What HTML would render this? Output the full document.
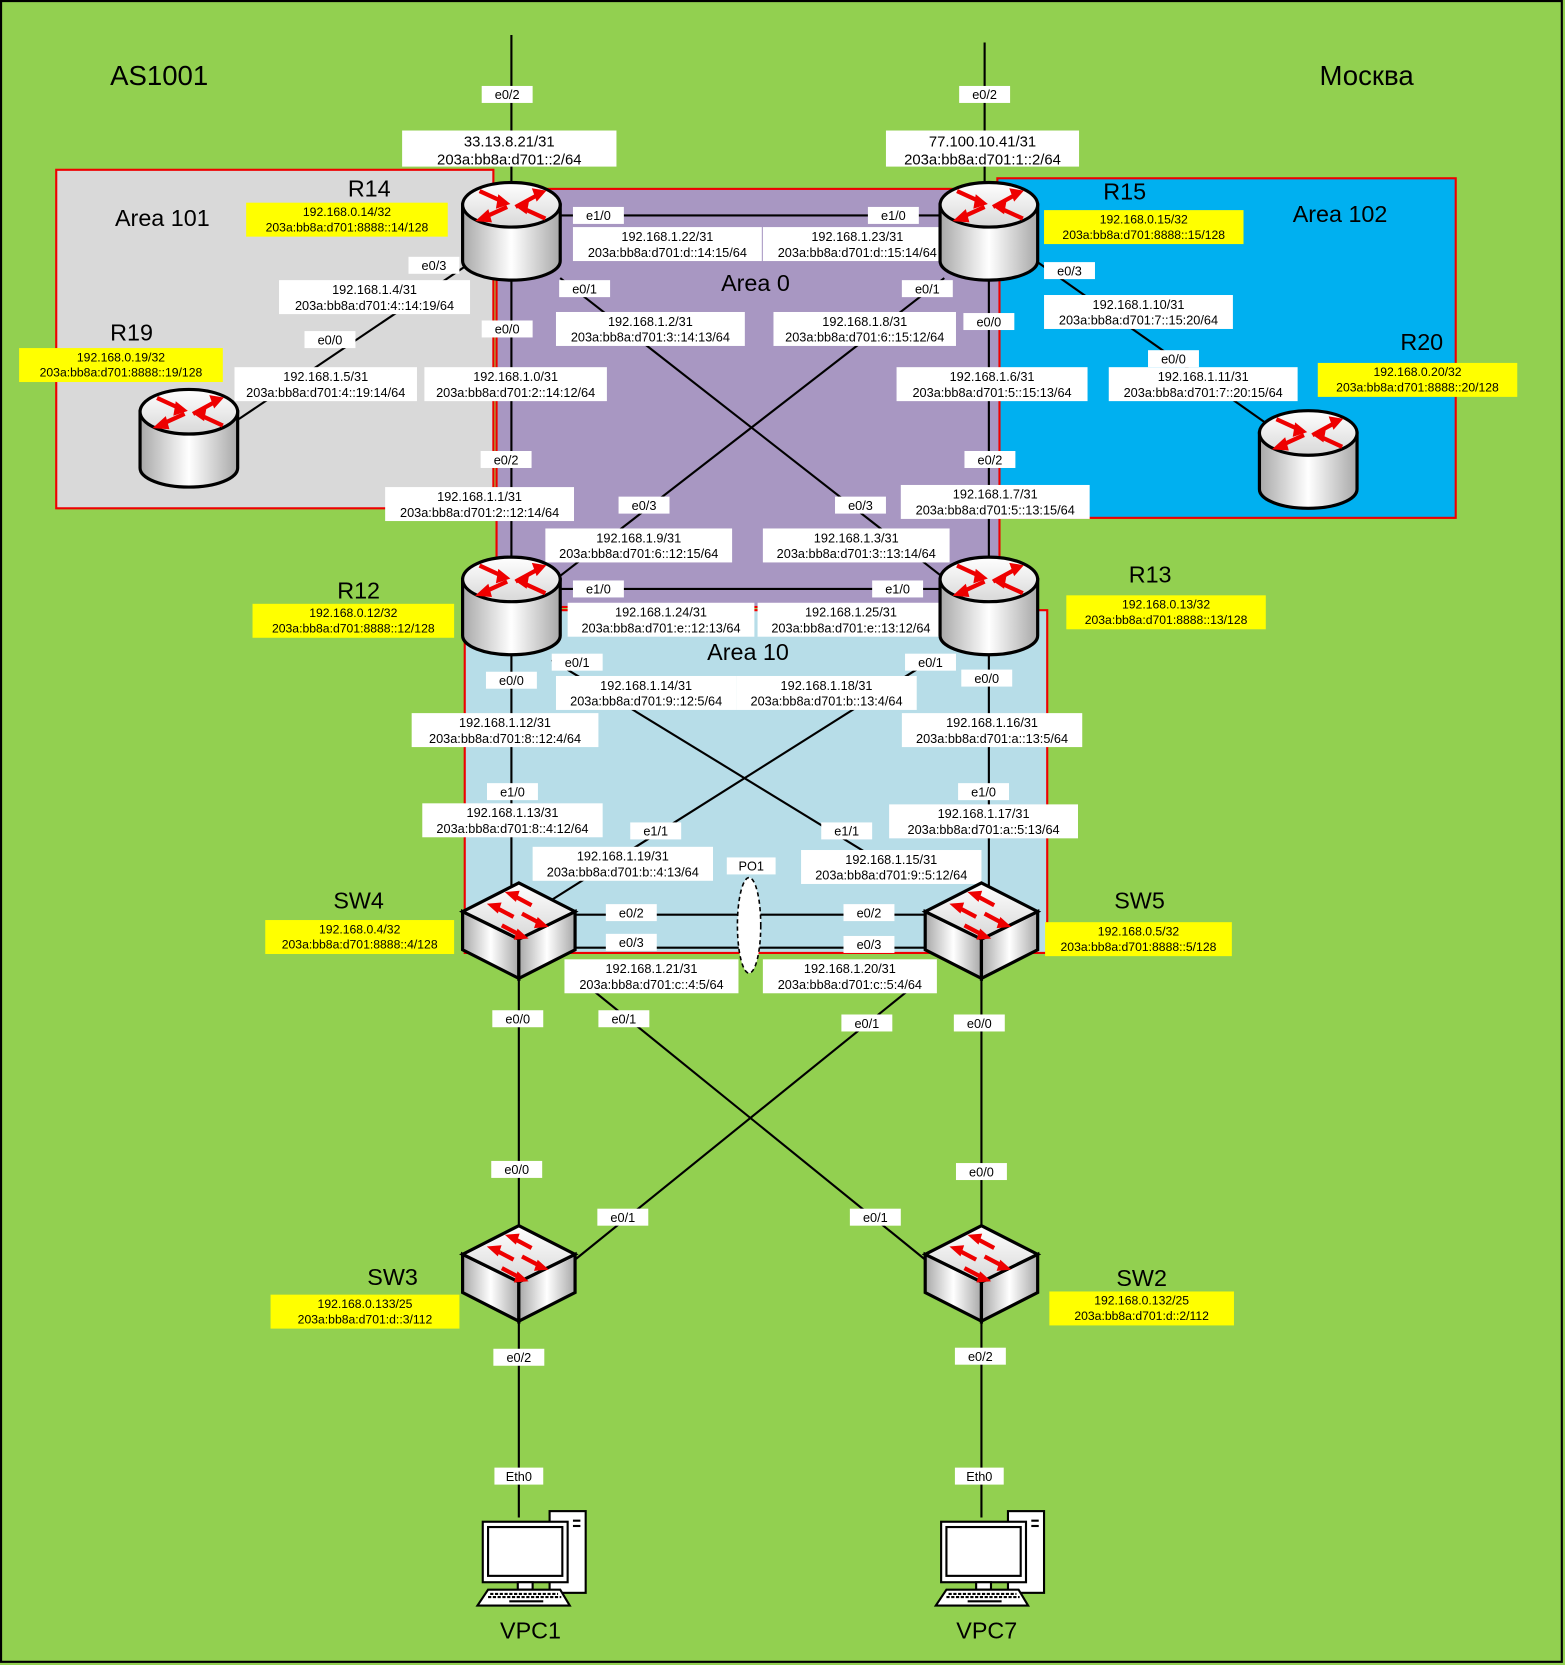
<!DOCTYPE html>
<html><head><meta charset="utf-8">
<style>
html,body{margin:0;padding:0;background:#92d050;}
svg{display:block;}
text{font-family:"Liberation Sans","DejaVu Sans",sans-serif;}
</style></head>
<body>
<svg id="net" xmlns="http://www.w3.org/2000/svg" width="1565" height="1665" viewBox="0 0 1475 1569" preserveAspectRatio="none">
<defs>
<linearGradient id="cyl" x1="0" x2="1" y1="0" y2="0">
<stop offset="0" stop-color="#a8a8a8"/><stop offset="0.5" stop-color="#ffffff"/><stop offset="1" stop-color="#a8a8a8"/>
</linearGradient>
<linearGradient id="topg" x1="0" x2="0" y1="0" y2="1">
<stop offset="0" stop-color="#ffffff"/><stop offset="1" stop-color="#d8d8d8"/>
</linearGradient>
<symbol id="router" viewBox="-50 -50 100 100" overflow="visible">
<path d="M-46,-24 L-46,29 A46,18 0 0 0 46,29 L46,-24 Z" fill="url(#cyl)" stroke="#000" stroke-width="3"/>
<ellipse cx="0" cy="-24" rx="46" ry="21" fill="url(#topg)" stroke="#000" stroke-width="3"/>
<g stroke="#e00" stroke-width="4" fill="#e00">
<line x1="-30" y1="-37" x2="-6" y2="-26"/><polygon points="-2,-25 -12,-33 -14,-21" stroke-width="1"/>
<line x1="4" y1="-22" x2="26" y2="-34"/><polygon points="32,-37 20,-39 24,-28" stroke-width="1"/>
<line x1="-4" y1="-22" x2="-26" y2="-12"/><polygon points="-33,-9 -22,-19 -19,-8" stroke-width="1"/>
<line x1="32" y1="-11" x2="8" y2="-22"/><polygon points="4,-23 14,-16 16,-27" stroke-width="1"/>
</g>
</symbol>
<symbol id="switch" viewBox="-60 -50 120 100" overflow="visible">
<polygon points="0,-45 53,-18 53,18 0,45 -53,18 -53,-18" fill="#ddd"/>
<polygon points="-53,-18 0,8 0,45 -53,18" fill="url(#cyl)" stroke="#000" stroke-width="3"/>
<polygon points="53,-18 0,8 0,45 53,18" fill="url(#cyl)" stroke="#000" stroke-width="3"/>
<polygon points="0,-45 53,-18 0,8 -53,-18" fill="url(#topg)" stroke="#000" stroke-width="3"/>
<g stroke="#e00" stroke-width="4" fill="#e00">
<line x1="-5" y1="-33" x2="12" y2="-24"/><polygon points="-12,-36 0,-37 -3,-28" stroke-width="1"/>
<line x1="-22" y1="-22" x2="-5" y2="-13"/><polygon points="-29,-25 -17,-26 -20,-17" stroke-width="1"/>
<line x1="3" y1="-16" x2="20" y2="-7"/><polygon points="27,-4 15,-3 18,-12" stroke-width="1"/>
<line x1="-16" y1="-5" x2="1" y2="4"/><polygon points="8,7 -4,8 -1,-1" stroke-width="1"/>
</g>
</symbol>
<symbol id="pc" viewBox="-60 -50 120 100" overflow="visible">
<rect x="18" y="-41" width="34" height="77" fill="#fff" stroke="#000" stroke-width="2"/>
<rect x="40" y="-33" width="7" height="2" fill="#000"/><rect x="40" y="-28" width="7" height="2" fill="#000"/>
<rect x="-45" y="-31" width="80" height="57" fill="#fff" stroke="#000" stroke-width="2"/>
<rect x="-40" y="-26" width="70" height="46" fill="#fff" stroke="#000" stroke-width="2"/>
<rect x="-12" y="26" width="14" height="7" fill="#fff" stroke="#000" stroke-width="2"/>
<polygon points="-40,33 28,33 37,48 -50,48" fill="#fff" stroke="#000" stroke-width="2"/>
<line x1="-38" y1="37" x2="26" y2="37" stroke="#000" stroke-width="2" stroke-dasharray="3,1.5"/>
<line x1="-40" y1="40" x2="29" y2="40" stroke="#000" stroke-width="2" stroke-dasharray="3,1.5"/>
<line x1="-20" y1="44" x2="12" y2="44" stroke="#000" stroke-width="2"/>
</symbol>
</defs>

<rect x="1" y="1" width="1471" height="1565" fill="#92d050" stroke="#000" stroke-width="2"/>

<rect x="53" y="160" width="412" height="319" fill="#d9d9d9" stroke="#e00" stroke-width="2"/>
<rect x="940" y="168" width="432" height="320" fill="#00b0f0" stroke="#e00" stroke-width="2"/>
<rect x="438" y="575" width="549" height="323" fill="#b7dde8" stroke="#e00" stroke-width="2"/>
<rect x="468" y="178" width="474" height="394" fill="#a897c2" stroke="#e00" stroke-width="2"/>

<g id="links" stroke="#000" stroke-width="2" fill="none">
<line x1="482" y1="33" x2="482" y2="200"/>
<line x1="928" y1="40" x2="928" y2="200"/>
<line x1="482" y1="203" x2="932" y2="203"/>
<line x1="482" y1="217" x2="482" y2="570"/>
<line x1="932" y1="217" x2="932" y2="570"/>
<line x1="440" y1="250" x2="225" y2="395"/>
<line x1="975" y1="245" x2="1195" y2="400"/>
<line x1="528" y1="262" x2="890" y2="545"/>
<line x1="890" y1="262" x2="525" y2="545"/>
<line x1="482" y1="555" x2="932" y2="555"/>
<line x1="482" y1="570" x2="482" y2="860"/>
<line x1="932" y1="570" x2="932" y2="850"/>
<line x1="520" y1="622" x2="840" y2="818"/>
<line x1="878" y1="622" x2="520" y2="848"/>
<line x1="489" y1="862" x2="925" y2="862"/>
<line x1="489" y1="893" x2="925" y2="893"/>
<line x1="489" y1="877" x2="489" y2="1200"/>
<line x1="925" y1="877" x2="925" y2="1200"/>
<line x1="540" y1="918" x2="872" y2="1187"/>
<line x1="875" y1="918" x2="542" y2="1187"/>
<line x1="489" y1="1200" x2="489" y2="1430"/>
<line x1="925" y1="1200" x2="925" y2="1430"/>
</g>
<ellipse cx="706" cy="872" rx="11" ry="45" fill="#fff" stroke="#000" stroke-width="1.5" stroke-dasharray="4,3"/>

<g id="labels"></g>
<g id="devices"></g>
<g id="titles"></g>
</svg>
<script>
const NS="http://www.w3.org/2000/svg";
const portLabels=[
["e0/2",478,89],["e0/2",928,89],["e1/0",564,203],["e1/0",842,203],["e0/3",409,250],["e0/1",551,272],["e0/1",874,272],
["e0/3",1008,255],["e0/0",311,320],["e0/0",478,310],["e0/0",932,303],["e0/0",1106,338],["e0/2",477,433],["e0/2",933,433],
["e0/3",607,476],["e0/3",811,476],["e1/0",564,555],["e1/0",846,555],["e0/1",544,624],["e0/1",877,624],["e0/0",482,641],["e0/0",930,639],
["e1/0",483,746],["e1/0",927,746],["e1/1",618,783],["e1/1",798,783],["PO1",708,816],["e0/2",595,860],["e0/2",819,860],["e0/3",595,888],["e0/3",819,890],
["e0/0",488,960],["e0/1",588,960],["e0/1",817,964],["e0/0",923,964],["e0/0",487,1102],["e0/0",925,1104],["e0/1",587,1147],["e0/1",825,1147],
["e0/2",489,1279],["e0/2",924,1278],["Eth0",489,1391],["Eth0",923,1391]];
const ipLabels=[
[480,140,202,"33.13.8.21/31","203a:bb8a:d701::2/64",14],
[926,140,182,"77.100.10.41/31","203a:bb8a:d701:1::2/64",14],
[629,230,178,"192.168.1.22/31","203a:bb8a:d701:d::14:15/64",12],
[808,230,178,"192.168.1.23/31","203a:bb8a:d701:d::15:14/64",12],
[353,280,180,"192.168.1.4/31","203a:bb8a:d701:4::14:19/64",12],
[1073,294,178,"192.168.1.10/31","203a:bb8a:d701:7::15:20/64",12],
[613,310,178,"192.168.1.2/31","203a:bb8a:d701:3::14:13/64",12],
[815,310,172,"192.168.1.8/31","203a:bb8a:d701:6::15:12/64",12],
[307,362,172,"192.168.1.5/31","203a:bb8a:d701:4::19:14/64",12],
[486,362,172,"192.168.1.0/31","203a:bb8a:d701:2::14:12/64",12],
[935,362,180,"192.168.1.6/31","203a:bb8a:d701:5::15:13/64",12],
[1134,362,178,"192.168.1.11/31","203a:bb8a:d701:7::20:15/64",12],
[452,475,178,"192.168.1.1/31","203a:bb8a:d701:2::12:14/64",12],
[938,473,178,"192.168.1.7/31","203a:bb8a:d701:5::13:15/64",12],
[602,514,176,"192.168.1.9/31","203a:bb8a:d701:6::12:15/64",12],
[807,514,176,"192.168.1.3/31","203a:bb8a:d701:3::13:14/64",12],
[623,584,176,"192.168.1.24/31","203a:bb8a:d701:e::12:13/64",12],
[802,584,176,"192.168.1.25/31","203a:bb8a:d701:e::13:12/64",12],
[609,653,170,"192.168.1.14/31","203a:bb8a:d701:9::12:5/64",12],
[779,653,170,"192.168.1.18/31","203a:bb8a:d701:b::13:4/64",12],
[476,688,176,"192.168.1.12/31","203a:bb8a:d701:8::12:4/64",12],
[935,688,170,"192.168.1.16/31","203a:bb8a:d701:a::13:5/64",12],
[483,773,170,"192.168.1.13/31","203a:bb8a:d701:8::4:12/64",12],
[927,774,178,"192.168.1.17/31","203a:bb8a:d701:a::5:13/64",12],
[587,814,170,"192.168.1.19/31","203a:bb8a:d701:b::4:13/64",12],
[840,817,170,"192.168.1.15/31","203a:bb8a:d701:9::5:12/64",12],
[614,920,164,"192.168.1.21/31","203a:bb8a:d701:c::4:5/64",12],
[801,920,164,"192.168.1.20/31","203a:bb8a:d701:c::5:4/64",12]];
const loopLabels=[
[327,207,190,"192.168.0.14/32","203a:bb8a:d701:8888::14/128"],
[1078,214,188,"192.168.0.15/32","203a:bb8a:d701:8888::15/128"],
[114,344,192,"192.168.0.19/32","203a:bb8a:d701:8888::19/128"],
[1336,358,188,"192.168.0.20/32","203a:bb8a:d701:8888::20/128"],
[333,585,190,"192.168.0.12/32","203a:bb8a:d701:8888::12/128"],
[1099,577,188,"192.168.0.13/32","203a:bb8a:d701:8888::13/128"],
[339,883,178,"192.168.0.4/32","203a:bb8a:d701:8888::4/128"],
[1073,885,176,"192.168.0.5/32","203a:bb8a:d701:8888::5/128"],
[344,1236,178,"192.168.0.133/25","203a:bb8a:d701:d::3/112"],
[1076,1233,174,"192.168.0.132/25","203a:bb8a:d701:d::2/112"]];
const routers=[["R14",482,217],["R15",932,217],["R19",178,412],["R20",1233,432],["R12",482,570],["R13",932,570]];
const switches=[["SW4",489,877],["SW5",925,877],["SW3",489,1200],["SW2",925,1200]];
const pcs=[["VPC1",500,1465],["VPC7",932,1465]];
const titles=[["AS1001",150,80,26],["Москва",1288,80,26],["Area 101",153,213,22],["Area 102",1263,209,22],["Area 0",712,274,22],["Area 10",705,622,22],
["R14",348,185,22],["R15",1060,188,22],["R19",124,321,22],["R20",1340,330,22],["R12",338,564,22],["R13",1084,549,22],
["SW4",338,856,22],["SW5",1074,856,22],["SW3",370,1211,22],["SW2",1076,1212,22],["VPC1",500,1544,22],["VPC7",930,1544,22]];

function mk(tag,attrs,parent){const e=document.createElementNS(NS,tag);for(const k in attrs)e.setAttribute(k,attrs[k]);parent.appendChild(e);return e;}
const L=document.getElementById('labels'),D=document.getElementById('devices'),T=document.getElementById('titles');
portLabels.forEach(p=>{
  const w=p[0]==="PO1"?46:(p[0]==="Eth0"?46:48);
  const g=mk('g',{},L);
  
  
  mk('rect',{x:p[1]-w/2,y:p[2]-8,width:w,height:16,fill:'#fff'},g);
  const t=mk('text',{x:p[1],y:p[2]+4.5,'font-size':12,'text-anchor':'middle',fill:'#000'},g);t.textContent=p[0];
});
function box(arr,fill,fs,name){
  arr.forEach(b=>{
    const f=b[5]&&typeof b[5]==="number"?b[5]:fs;
    const h=f>12?34:32;
    const g=mk('g',{},L);
    
    
    mk('rect',{x:b[0]-b[2]/2,y:b[1]-h/2,width:b[2],height:h,fill:fill},g);
    const t1=mk('text',{x:b[0],y:b[1]-h/2+f+1,'font-size':f,'text-anchor':'middle'},g);t1.textContent=b[3];
    const t2=mk('text',{x:b[0],y:b[1]-h/2+2*f+4,'font-size':f,'text-anchor':'middle'},g);t2.textContent=b[4];
  });
}
box(ipLabels,'#fff',12,'ip-address-label');
box(loopLabels,'#ffff00',11.5,'loopback-label');
routers.forEach(r=>{
  const u=mk('use',{href:'#router',x:r[1]-50,y:r[2]-50,width:100,height:100},D);
  
  
});
switches.forEach(s=>{
  const u=mk('use',{href:'#switch',x:s[1]-60,y:s[2]-50,width:120,height:100},D);
  
  
});
pcs.forEach(p=>{
  const u=mk('use',{href:'#pc',x:p[1]-60,y:p[2]-50,width:120,height:100},D);
  
  
});
titles.forEach(t=>{
  const e=mk('text',{x:t[1],y:t[2],'font-size':t[3],'text-anchor':'middle',fill:'#000'},T);
  
  
  e.textContent=t[0];
});
</script>
</body></html>
